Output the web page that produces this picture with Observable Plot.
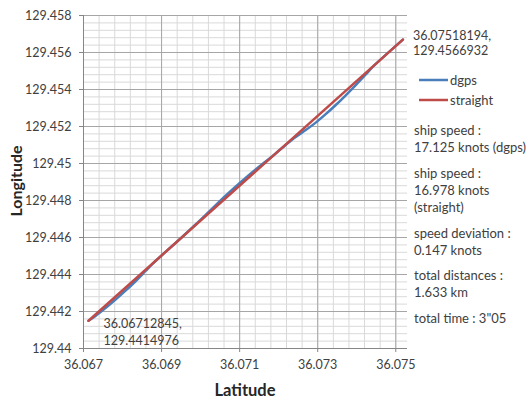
<!DOCTYPE html>
<html>
<head>
<meta charset="utf-8">
<script src="https://cdn.jsdelivr.net/npm/d3@7"></script>
<script src="https://cdn.jsdelivr.net/npm/@observablehq/plot@0.6"></script>
<style>
  body { margin: 0; background: #fff; }
  #chart { width: 527px; height: 401px; }
</style>
</head>
<body>
<div id="chart"></div>
<script>
// DGPS track of the ship (latitude, longitude)
const dgpsLat = [36.06712845, 36.067308, 36.067564, 36.067821, 36.068077, 36.068333,
  36.068590, 36.068769, 36.069103, 36.069487, 36.069872, 36.070256, 36.070641,
  36.071026, 36.071410, 36.071667, 36.071923, 36.072179, 36.072436, 36.072692,
  36.072949, 36.073205, 36.073462, 36.073718, 36.073974, 36.074231, 36.074410,
  36.07518194];
const dgpsLon = [129.4414976, 129.441755, 129.442184, 129.442642, 129.443125, 129.443635,
  129.444191, 129.444577, 129.445223, 129.445948, 129.446701, 129.447480, 129.448260,
  129.448987, 129.449674, 129.450104, 129.450544, 129.451000, 129.451431, 129.451806,
  129.452210, 129.452666, 129.453162, 129.453688, 129.454236, 129.454813, 129.455221,
  129.4566932];

// straight course between the first and last fix
const straightLat = [36.06712845, 36.07518194];
const straightLon = [129.4414976, 129.4566932];

const seriesNames = ["dgps", "straight"];
const seriesColors = ["#4a7ebb", "#be4b48"];

const xTicks = [36.067, 36.069, 36.071, 36.073, 36.075];
const yTicks = [129.44, 129.442, 129.444, 129.446, 129.448, 129.45, 129.452, 129.454, 129.456, 129.458];

const notes = [
  ["ship speed :", "17.125 knots (dgps)"],
  ["ship speed :", "16.978 knots", "(straight)"],
  ["speed deviation :", "0.147 knots"],
  ["total distances :", "1.633 km"],
  ["total time : 3\"05"]
];

const dgps = dgpsLat.map((lat, i) => ({lat, lon: dgpsLon[i]}));
const straight = straightLat.map((lat, i) => ({lat, lon: straightLon[i]}));

// minor grid every 0.0004 degrees
const minorX = d3.range(0, 21).map(i => +(36.067 + i * 0.0004).toFixed(4));
const minorY = d3.range(0, 46).map(i => +(129.44 + i * 0.0004).toFixed(4));

const fmt = d => String(+d.toFixed(3));
const font = "Lato, sans-serif";
const labelText = d => `${d.lat},\n${d.lon}`;

const chart = Plot.plot({
  width: 527,
  height: 401,
  marginLeft: 83,
  marginRight: 120,
  marginTop: 15,
  marginBottom: 53,
  style: {fontFamily: font, background: "#fff", color: "#404040"},
  x: {domain: [36.067, 36.0753]},
  y: {domain: [129.44, 129.458]},
  marks: [
    Plot.ruleX(minorX, {stroke: "#d9d9d9"}),
    Plot.ruleY(minorY, {stroke: "#d9d9d9"}),
    Plot.ruleX(xTicks, {stroke: "#a6a6a6"}),
    Plot.ruleY(yTicks, {stroke: "#a6a6a6"}),
    Plot.ruleX([xTicks[0]], {stroke: "#868686"}),
    Plot.ruleY([yTicks[0]], {stroke: "#868686"}),
    Plot.axisX(xTicks, {tickSize: 4, tickPadding: 8, tickFormat: fmt, fontSize: 12.5,
      stroke: "#868686", fill: "#404040", label: null}),
    Plot.axisY(yTicks, {tickSize: 4, tickPadding: 8, tickFormat: fmt, fontSize: 12.5,
      stroke: "#868686", fill: "#404040", label: null}),
    Plot.line(dgps, {x: "lat", y: "lon", stroke: seriesColors[0], strokeWidth: 2.5, curve: "catmull-rom"}),
    Plot.line(straight, {x: "lat", y: "lon", stroke: seriesColors[1], strokeWidth: 2.5}),
    Plot.text([straight[0]], {x: "lat", y: "lon", text: labelText, textAnchor: "start",
      lineAnchor: "top", lineHeight: 1.3, dx: 15, dy: -4, fontSize: 12.5, fill: "#404040"}),
    Plot.text([straight[1]], {x: "lat", y: "lon", text: labelText, textAnchor: "start",
      lineAnchor: "top", lineHeight: 1.25, dx: 10, dy: -11, fontSize: 12.5, fill: "#404040"})
  ]
});

document.getElementById("chart").append(chart);

const svg = d3.select(chart);

// axis titles
svg.append("text")
  .attr("x", 245).attr("y", 396)
  .attr("text-anchor", "middle")
  .attr("font-family", font).attr("font-size", 16.5).attr("font-weight", "bold")
  .attr("fill", "#262626")
  .text("Latitude");
svg.append("text")
  .attr("transform", "translate(21.5,181) rotate(-90)")
  .attr("text-anchor", "middle")
  .attr("font-family", font).attr("font-size", 16).attr("font-weight", "bold")
  .attr("fill", "#262626")
  .text("Longitude");

// legend
const legend = svg.append("g").attr("font-family", font).attr("font-size", 13)
  .attr("fill", "#404040").attr("text-anchor", "start");
seriesNames.forEach((name, i) => {
  const y = 80 + i * 20;
  legend.append("line").attr("x1", 419).attr("x2", 448).attr("y1", y).attr("y2", y)
    .attr("stroke", seriesColors[i]).attr("stroke-width", 2.5);
  legend.append("text").attr("x", 450).attr("y", y + 4.5).text(name);
});

// run summary
const summary = svg.append("g").attr("font-family", font).attr("font-size", 13)
  .attr("fill", "#404040").attr("text-anchor", "start");
let baseline = 135;
notes.forEach(group => {
  group.forEach(line => {
    summary.append("text").attr("x", 414).attr("y", baseline).text(line);
    baseline += 17.3;
  });
  baseline += 8;
});
</script>
</body>
</html>
